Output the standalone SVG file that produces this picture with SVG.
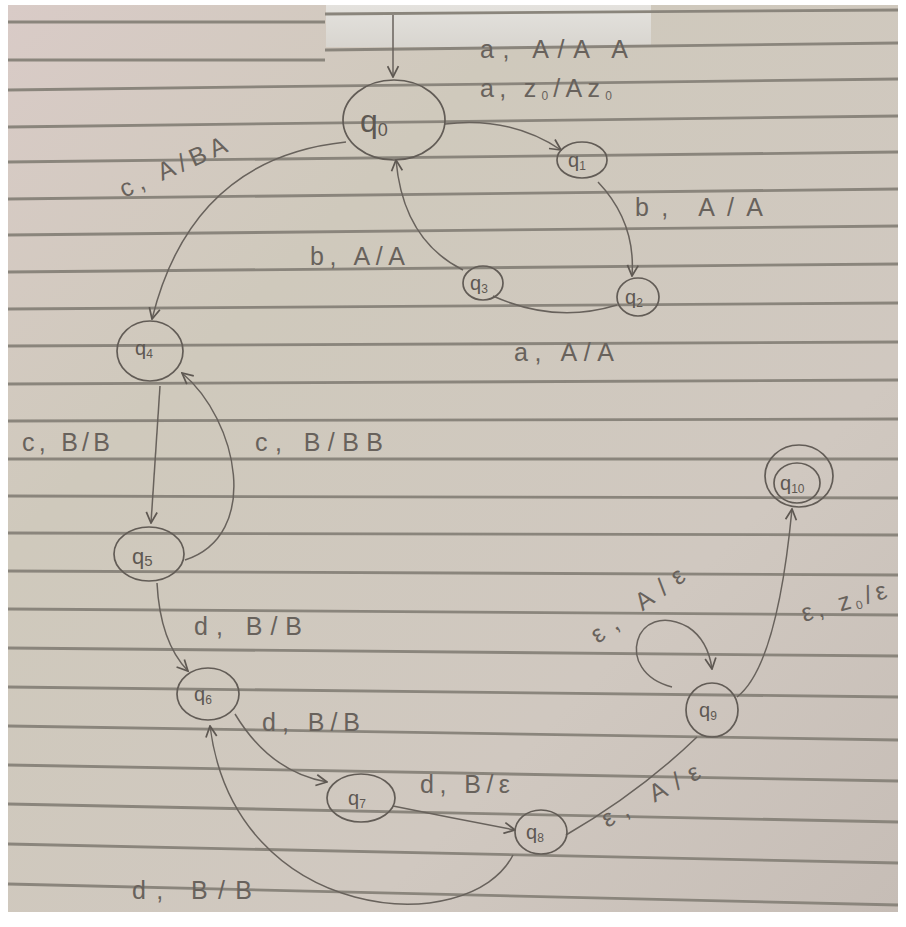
<svg xmlns="http://www.w3.org/2000/svg" width="906" height="927" viewBox="0 0 906 927">
<defs>
<linearGradient id="paper" x1="0" y1="0" x2="1" y2="1">
<stop offset="0" stop-color="#d9cbc7"/>
<stop offset="0.3" stop-color="#cfc9bc"/>
<stop offset="0.7" stop-color="#d0c8c0"/>
<stop offset="1" stop-color="#c6bdb6"/>
</linearGradient>
<linearGradient id="patch" x1="0" y1="0" x2="0" y2="1">
<stop offset="0" stop-color="#e4e2de"/>
<stop offset="1" stop-color="#d8d5cf"/>
</linearGradient>
<marker id="arr" viewBox="0 0 12 12" refX="11" refY="6" markerWidth="13" markerHeight="13" markerUnits="userSpaceOnUse" orient="auto">
<path d="M1,1 L11,6 L1,11" fill="none" stroke="#5e5852" stroke-width="1.6"/>
</marker>
</defs>
<style>
.rule{stroke:#8a857c;stroke-width:2.8;}
.st{fill:none;stroke:#625c56;stroke-width:1.7;}
.ed{fill:none;stroke:#68625c;stroke-width:1.5;}
.lb{font-family:"Liberation Sans",Arial,sans-serif;font-size:25px;fill:#68625c;}
.nl{font-family:"Liberation Sans",Arial,sans-serif;font-size:20px;fill:#5e5852;}
.sub{font-size:12px;}
</style>
<rect width="906" height="927" fill="#ffffff"/>
<rect x="8" y="5" width="890" height="907" fill="url(#paper)"/>
<rect x="326" y="5" width="325" height="42" fill="url(#patch)"/>
<g id="rules">
<line class="rule" x1="8" y1="22" x2="325" y2="22"/>
<line class="rule" x1="8" y1="60" x2="325" y2="60"/>
<line class="rule" x1="325" y1="14" x2="898" y2="10"/>
<line class="rule" x1="325" y1="50" x2="898" y2="43"/>
<line class="rule" x1="8" y1="90" x2="898" y2="79"/>
<line class="rule" x1="8" y1="127" x2="898" y2="116"/>
<line class="rule" x1="8" y1="162" x2="898" y2="152"/>
<line class="rule" x1="8" y1="199" x2="898" y2="189"/>
<line class="rule" x1="8" y1="235" x2="898" y2="226"/>
<line class="rule" x1="8" y1="272" x2="898" y2="264"/>
<line class="rule" x1="8" y1="309" x2="898" y2="303"/>
<line class="rule" x1="8" y1="346" x2="898" y2="342"/>
<line class="rule" x1="8" y1="384" x2="898" y2="380"/>
<line class="rule" x1="8" y1="421" x2="898" y2="419"/>
<line class="rule" x1="8" y1="459" x2="898" y2="459"/>
<line class="rule" x1="8" y1="496" x2="898" y2="498"/>
<line class="rule" x1="8" y1="533" x2="898" y2="535"/>
<line class="rule" x1="8" y1="571" x2="898" y2="575"/>
<line class="rule" x1="8" y1="609" x2="898" y2="615"/>
<line class="rule" x1="8" y1="648" x2="898" y2="656"/>
<line class="rule" x1="8" y1="687" x2="898" y2="697"/>
<line class="rule" x1="8" y1="726" x2="898" y2="740"/>
<line class="rule" x1="8" y1="765" x2="898" y2="781"/>
<line class="rule" x1="8" y1="804" x2="898" y2="822"/>
<line class="rule" x1="8" y1="844" x2="898" y2="863"/>
<line class="rule" x1="8" y1="884" x2="898" y2="905"/>
</g>
<g id="connectors">
<path class="ed" marker-end="url(#arr)" d="M393,15 L393,77"/>
<path class="ed" marker-end="url(#arr)" d="M445,124 Q510,116 561,150"/>
<path class="ed" marker-end="url(#arr)" d="M598,182 Q636,222 632,276"/>
<path class="ed" d="M617,305 Q555,324 493,296"/>
<path class="ed" marker-end="url(#arr)" d="M463,270 Q403,240 396,160"/>
<path class="ed" marker-end="url(#arr)" d="M346,142 Q192,158 152,319"/>
<path class="ed" marker-end="url(#arr)" d="M160,386 L151,523"/>
<path class="ed" marker-end="url(#arr)" d="M185,560 C262,535 238,420 182,373"/>
<path class="ed" marker-end="url(#arr)" d="M157,583 Q160,642 188,671"/>
<path class="ed" marker-end="url(#arr)" d="M235,714 Q270,772 327,782"/>
<path class="ed" marker-end="url(#arr)" d="M393,806 Q452,818 515,830"/>
<path class="ed" marker-end="url(#arr)" d="M513,855 C470,940 235,925 210,726"/>
<path class="ed" d="M566,835 Q640,792 697,737"/>
<path class="ed" marker-end="url(#arr)" d="M672,687 C612,672 635,598 688,627 Q708,640 712,669"/>
<path class="ed" marker-end="url(#arr)" d="M737,697 C772,670 786,572 792,509"/>
<text class="lb" x="480" y="58" textLength="148" lengthAdjust="spacing">a, A/A A</text>
<text class="lb" x="480" y="97" textLength="132" lengthAdjust="spacing">a, z<tspan class="sub" dy="3">0</tspan><tspan dy="-3">/Az</tspan><tspan class="sub" dy="3">0</tspan></text>
<text class="lb" x="635" y="216" textLength="128" lengthAdjust="spacing">b, A/A</text>
<text class="lb" x="514" y="361" textLength="100" lengthAdjust="spacing">a, A/A</text>
<text class="lb" x="310" y="265" textLength="95" lengthAdjust="spacing">b, A/A</text>
<text class="lb" x="0" y="0" textLength="115" lengthAdjust="spacing" transform="translate(124,198) rotate(-24)">c, A/BA</text>
<text class="lb" x="22" y="451" textLength="88" lengthAdjust="spacing">c, B/B</text>
<text class="lb" x="255" y="451" textLength="128" lengthAdjust="spacing">c, B/BB</text>
<text class="lb" x="194" y="635" textLength="108" lengthAdjust="spacing">d, B/B</text>
<text class="lb" x="262" y="731" textLength="98" lengthAdjust="spacing">d, B/B</text>
<text class="lb" x="420" y="793" textLength="90" lengthAdjust="spacing">d, B/ε</text>
<text class="lb" x="132" y="899" textLength="120" lengthAdjust="spacing">d, B/B</text>
<text class="lb" x="0" y="0" textLength="108" lengthAdjust="spacing" transform="translate(607,828) rotate(-28)">ε, A/ε</text>
<text class="lb" x="0" y="0" textLength="110" lengthAdjust="spacing" transform="translate(598,644) rotate(-36)">ε, A/ε</text>
<text class="lb" x="0" y="0" textLength="88" lengthAdjust="spacing" transform="translate(804,622) rotate(-16)">ε, z<tspan class="sub" dy="3">0</tspan><tspan dy="-3">/ε</tspan></text>
</g>
<g id="q0"><ellipse class="st" cx="394" cy="120" rx="51" ry="40"/><text class="nl" x="360" y="132" style="font-size:32px">q<tspan style="font-size:18px" dy="4">0</tspan></text></g>
<g id="q1"><ellipse class="st" cx="582" cy="160" rx="25" ry="18"/><text class="nl" x="568" y="167">q<tspan class="sub" dy="3">1</tspan></text></g>
<g id="q2"><ellipse class="st" cx="638" cy="297" rx="21" ry="19"/><text class="nl" x="625" y="304">q<tspan class="sub" dy="3">2</tspan></text></g>
<g id="q3"><ellipse class="st" cx="483" cy="283" rx="20" ry="17"/><text class="nl" x="470" y="290">q<tspan class="sub" dy="3">3</tspan></text></g>
<g id="q4"><ellipse class="st" cx="150" cy="351" rx="33" ry="30"/><text class="nl" x="135" y="355">q<tspan class="sub" dy="3">4</tspan></text></g>
<g id="q5"><ellipse class="st" cx="149" cy="554" rx="35" ry="27"/><text class="nl" x="132" y="564" style="font-size:22px">q<tspan style="font-size:15px" dy="2">5</tspan></text></g>
<g id="q6"><ellipse class="st" cx="208" cy="694" rx="31" ry="26"/><text class="nl" x="194" y="701">q<tspan class="sub" dy="3">6</tspan></text></g>
<g id="q7"><ellipse class="st" cx="361" cy="798" rx="34" ry="24"/><text class="nl" x="348" y="805">q<tspan class="sub" dy="3">7</tspan></text></g>
<g id="q8"><ellipse class="st" cx="541" cy="832" rx="26" ry="22"/><text class="nl" x="526" y="839">q<tspan class="sub" dy="3">8</tspan></text></g>
<g id="q9"><ellipse class="st" cx="712" cy="710" rx="26" ry="27"/><text class="nl" x="699" y="717">q<tspan class="sub" dy="3">9</tspan></text></g>
<g id="q10"><ellipse class="st" cx="799" cy="476" rx="34" ry="31"/><ellipse class="st" cx="797" cy="483" rx="23" ry="20"/><text class="nl" x="780" y="490">q<tspan class="sub" dy="3">10</tspan></text></g>
</svg>
